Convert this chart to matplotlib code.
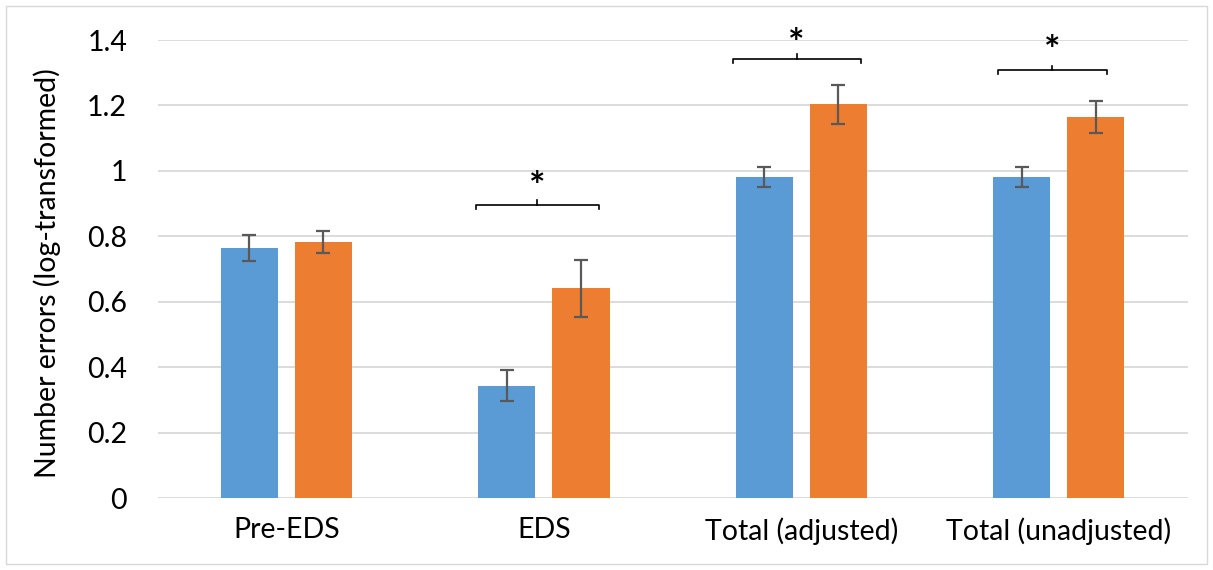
import numpy as np
from matplotlib import pyplot as plt
from matplotlib.patches import Rectangle

plt.rcParams['font.family'] = ['Lato', 'DejaVu Sans']

categories = ["Pre-EDS", "EDS", "Total (adjusted)", "Total (unadjusted)"]
blue_vals = [0.765, 0.343, 0.982, 0.982]
blue_err = [0.040, 0.047, 0.030, 0.030]
orange_vals = [0.782, 0.641, 1.203, 1.165]
orange_err = [0.034, 0.087, 0.059, 0.050]

# significance brackets: (x start, x end, y level, star y)
bracket_x0 = [0.735, 1.733, 2.762]
bracket_x1 = [1.213, 2.230, 3.189]
bracket_y = [0.896, 1.343, 1.307]
star_y = [0.95, 1.385, 1.365]

BLUE = "#5B9BD5"
ORANGE = "#ED7D31"
ERR = "#595959"

fig = plt.figure(figsize=(12.13, 5.70), dpi=100)
ax = fig.add_axes([0.130, 0.1263, 0.849, 0.8035])

x = np.arange(len(categories))
w = 0.222
off = 0.144
ekw = dict(ecolor=ERR, elinewidth=1.6, capsize=5, capthick=1.6)
ax.bar(x - off, blue_vals, w, color=BLUE, yerr=blue_err, error_kw=ekw, zorder=3)
ax.bar(x + off, orange_vals, w, color=ORANGE, yerr=orange_err, error_kw=ekw, zorder=3)

for x0, x1, y, sy in zip(bracket_x0, bracket_x1, bracket_y, star_y):
    xm = (x0 + x1) / 2
    d = 0.012
    ax.plot([x0, x0, x1, x1], [y - d, y, y, y - d], color="black", lw=1.2,
            zorder=4, clip_on=False)
    ax.plot([xm, xm], [y, y + d * 1.2], color="black", lw=1.2, zorder=4)
    ax.text(xm, sy, "*", ha="center", va="center", fontsize=28,
            fontweight="bold", zorder=5)

ax.set_xlim(-0.5, 3.5)
ax.set_ylim(0, 1.4)
ax.set_yticks(np.arange(0, 1.41, 0.2))
ax.set_yticklabels(["0", "0.2", "0.4", "0.6", "0.8", "1", "1.2", "1.4"])
ax.set_xticks(x)
ax.set_xticklabels(categories)
ax.tick_params(axis="both", length=0, labelsize=20.5, colors="black")
ax.tick_params(axis="y", pad=22)
ax.tick_params(axis="x", pad=14)
ax.grid(axis="y", color="#D9D9D9", linewidth=1.3, zorder=0)
ax.set_axisbelow(True)
for s in ax.spines.values():
    s.set_visible(False)

ax.set_ylabel("Number errors (log-transformed)", fontsize=20.5)
ax.yaxis.set_label_coords(-0.094, 0.49)

fig.patches.append(Rectangle((6 / 1213, 6 / 570), 1 - 12 / 1213, 1 - 12 / 570,
                             transform=fig.transFigure, fill=False,
                             edgecolor="#D9D9D9", linewidth=1))

plt.savefig("out.png", dpi=100)
